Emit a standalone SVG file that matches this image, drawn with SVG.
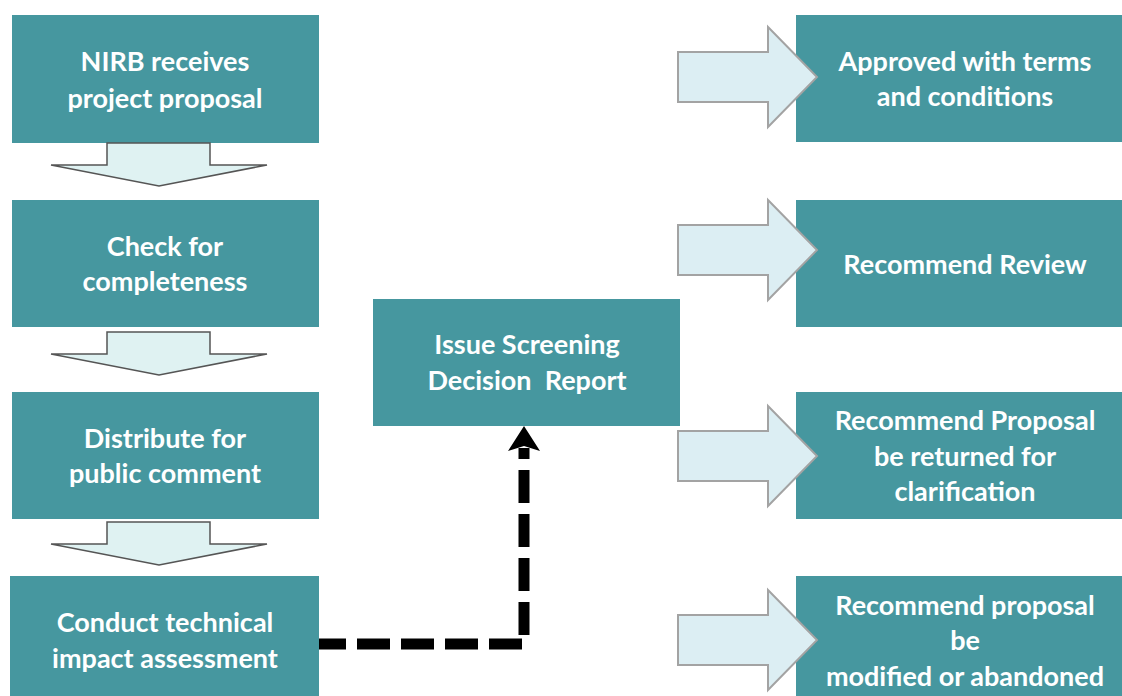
<svg xmlns="http://www.w3.org/2000/svg" width="1122" height="696" viewBox="0 0 1122 696">
<style>
.box{fill:#46979F}
.t{font-family:Lato,"Open Sans","Liberation Sans",sans-serif;font-weight:bold;font-size:27px;fill:#ffffff;text-anchor:middle;white-space:pre}
.down{fill:#DFF2F2;stroke:#555555;stroke-width:1.5;stroke-linejoin:miter}
.right{fill:#DCEEF3;stroke:#A3A3A3;stroke-width:2}
.dash{fill:none;stroke:#000000;stroke-width:11;stroke-dasharray:33 11}
</style>
<defs>
<path id="da" d="M107,0 L210,0 L210,22 L267,22 L159,43 L51,22 L107,22 Z"/>
<path id="ra" d="M678,25 L768,25 L768,0 L817,50 L768,100 L768,75 L678,75 Z"/>
</defs>
<rect width="1122" height="696" fill="#ffffff"/>
<g id="n1"><rect class="box" x="12" y="15" width="307" height="128"/><text class="t" x="165" y="71">NIRB receives</text><text class="t" x="165" y="108">project proposal</text></g>
<g id="n2"><rect class="box" x="12" y="200" width="307" height="127"/><text class="t" x="165" y="256">Check for</text><text class="t" x="165" y="291">completeness</text></g>
<g id="n3"><rect class="box" x="12" y="392" width="307" height="127"/><text class="t" x="165" y="448">Distribute for</text><text class="t" x="165" y="483">public comment</text></g>
<g id="n4"><rect class="box" x="10" y="576" width="309" height="120"/><text class="t" x="165" y="632">Conduct technical</text><text class="t" x="165" y="668">impact assessment</text></g>
<g id="n5"><rect class="box" x="373" y="299" width="307" height="127"/><text class="t" x="527" y="354">Issue Screening</text><text class="t" x="527" y="390">Decision  Report</text></g>
<g id="r1"><rect class="box" x="796" y="15" width="326" height="127"/><text class="t" x="965" y="71">Approved with terms</text><text class="t" x="965" y="106">and conditions</text></g>
<g id="r2"><rect class="box" x="796" y="200" width="326" height="127"/><text class="t" x="965" y="274">Recommend Review</text></g>
<g id="r3"><rect class="box" x="796" y="392" width="326" height="127"/><text class="t" x="965" y="430">Recommend Proposal</text><text class="t" x="965" y="466">be returned for</text><text class="t" x="965" y="501">clarification</text></g>
<g id="r4"><rect class="box" x="796" y="576" width="326" height="120"/><text class="t" x="965" y="615">Recommend proposal</text><text class="t" x="965" y="650">be</text><text class="t" x="965" y="686">modified or abandoned</text></g>
<g id="connectors">
<use href="#da" class="down" transform="translate(0,143)"/>
<use href="#da" class="down" transform="translate(0,332)"/>
<use href="#da" class="down" transform="translate(0,522)"/>
<use href="#ra" class="right" transform="translate(0,27)"/>
<use href="#ra" class="right" transform="translate(0,200)"/>
<use href="#ra" class="right" transform="translate(0,406)"/>
<use href="#ra" class="right" transform="translate(0,590)"/>
<path class="dash" d="M522,644 L319,644"/>
<path class="dash" d="M524,635 L524,448"/>
<path d="M524,426 L540,451 L524,446 L508,451 Z" fill="#000000"/>
</g>
</svg>
